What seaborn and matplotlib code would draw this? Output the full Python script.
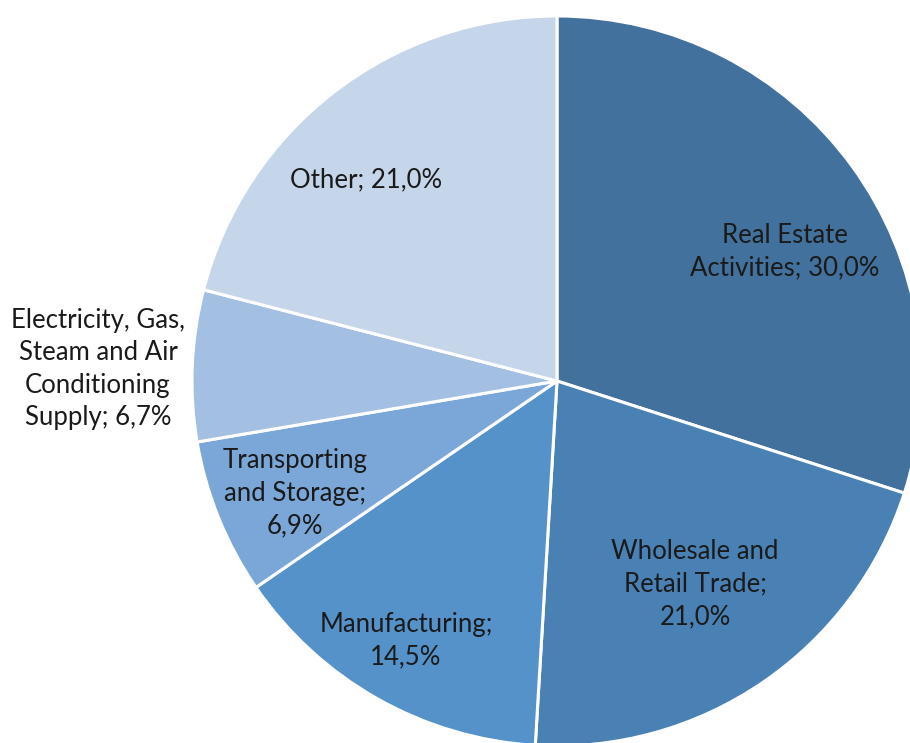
import matplotlib
matplotlib.use("Agg")
import matplotlib.pyplot as plt
import seaborn as sns

# Gross value added by sector, shares in percent
sectors = [
    "Real Estate\nActivities",
    "Wholesale and\nRetail Trade",
    "Manufacturing",
    "Transporting\nand Storage",
    "Electricity, Gas,\nSteam and Air\nConditioning\nSupply",
    "Other",
]
shares = [30.0, 21.0, 14.5, 6.9, 6.7, 21.0]

# Label text broken the same way as the sector names
label_texts = [
    "Real Estate\nActivities; {v}",
    "Wholesale and\nRetail Trade;\n{v}",
    "Manufacturing;\n{v}",
    "Transporting\nand Storage;\n{v}",
    "Electricity, Gas,\nSteam and Air\nConditioning\nSupply; {v}",
    "Other; {v}",
]

# Slice colours: shades of blue, dark to light
colors = ["#41719C", "#4A81B5", "#5592CA", "#7BA7D8", "#A3BFE2", "#C5D5EA"]

# Label anchor points in pixel space (x, y from top)
label_pos = [(785, 252), (695, 584), (406, 641), (295, 493), (98, 369), (366, 180)]

sns.set_theme(style="white")
plt.rcParams["font.family"] = ["Lato", "DejaVu Sans"]

W, H = 910, 743
fig = plt.figure(figsize=(W / 100, H / 100), dpi=100)
ax = fig.add_axes([0, 0, 1, 1])

cx, cy, r = 557, H - 381, 365
ax.pie(
    shares,
    colors=colors,
    startangle=90,
    counterclock=False,
    center=(cx, cy),
    radius=r,
    wedgeprops=dict(edgecolor="white", linewidth=2.2),
    frame=True,
)
ax.set_xlim(0, W)
ax.set_ylim(0, H)
ax.set_aspect("equal")
ax.axis("off")

def fmt(v):
    return f"{v:.1f}".replace(".", ",") + "%"

for tmpl, v, (x, y) in zip(label_texts, shares, label_pos):
    ax.text(x, H - y, tmpl.format(v=fmt(v)), ha="center", va="center",
            fontsize=18.5, color="#1a1a1a", linespacing=1.38)

fig.savefig("out.png", dpi=100, facecolor="white")
